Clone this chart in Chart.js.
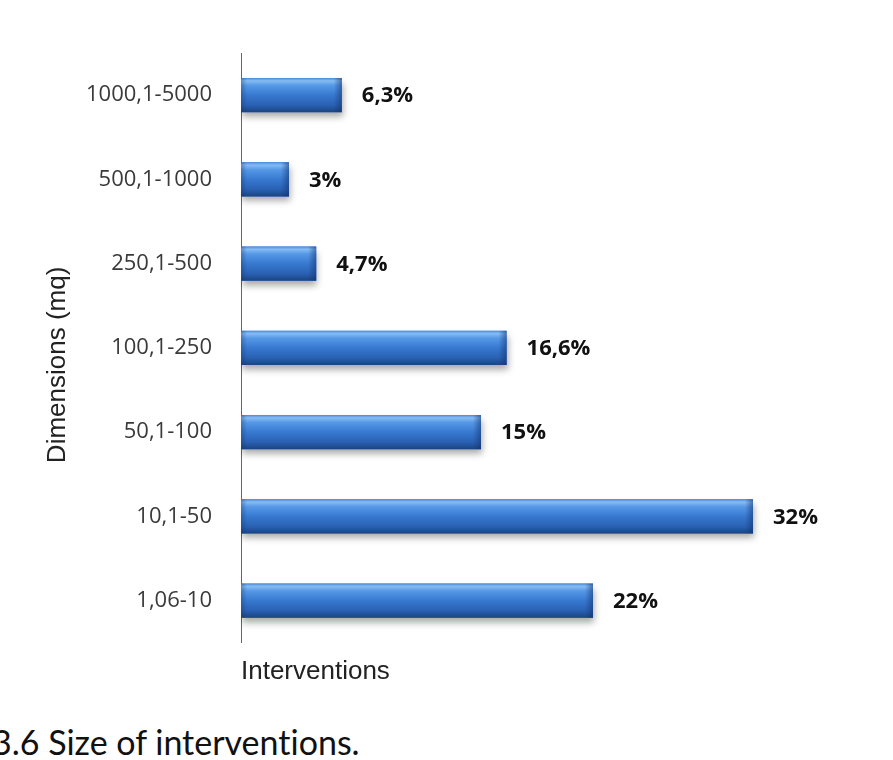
<!DOCTYPE html>
<html><head><meta charset="utf-8">
<script src="https://cdn.jsdelivr.net/npm/chart.js@4"></script>
<style>
html,body{margin:0;padding:0;background:#fff;width:893px;height:760px;overflow:hidden}
#wrap{position:absolute;left:0;top:0;width:893px;height:700px}
#cap{position:absolute;left:-8px;top:722px;font:34px/40px Lato, 'Open Sans', sans-serif;color:#111;white-space:nowrap;font-variant-ligatures:none;font-feature-settings:"liga" 0}
</style></head><body>
<div id="wrap"><canvas id="c" width="893" height="700"></canvas></div>
<div id="cap"></div>
<script>
const categories = ['1000,1-5000','500,1-1000','250,1-500','100,1-250','50,1-100','10,1-50','1,06-10'];
const shares = [6.3, 3, 4.7, 16.6, 15, 32, 22];
const shareLabels = ['6,3%','3%','4,7%','16,6%','15%','32%','22%'];
const xAxisTitle = 'Interventions';
const yAxisTitle = 'Dimensions (mq)';
const caption = '3.6 Size of interventions.';
const xMax = 40;

document.getElementById('cap').textContent = caption;

const shadowPlugin = {
  id: 'barShadow',
  beforeDatasetDraw(chart) {
    const ctx = chart.ctx;
    ctx.save();
    ctx.shadowColor = 'rgba(0,0,0,0.35)';
    ctx.shadowBlur = 7;
    ctx.shadowOffsetY = 5;
    ctx.shadowOffsetX = 1;
  },
  afterDatasetDraw(chart, args) {
    const ctx = chart.ctx;
    ctx.restore();
    args.meta.data.forEach(el => {
      const p = el.getProps(['x','y','base','height'], true);
      const top = p.y - p.height / 2, bot = p.y + p.height / 2;
      const g = ctx.createLinearGradient(0, top, 0, bot);
      g.addColorStop(0, '#4a8cdc');
      g.addColorStop(0.08, '#86bcf3');
      g.addColorStop(0.22, '#5598e6');
      g.addColorStop(0.5, '#3779d0');
      g.addColorStop(0.8, '#2960b2');
      g.addColorStop(1, '#1a447f');
      ctx.fillStyle = g;
      ctx.fillRect(p.base, top, p.x - p.base, p.height);
      const w = Math.min(8, (p.x - p.base) / 3);
      const h = ctx.createLinearGradient(p.x - w, 0, p.x, 0);
      h.addColorStop(0, 'rgba(20,50,110,0)');
      h.addColorStop(1, 'rgba(20,50,110,0.55)');
      ctx.fillStyle = h;
      ctx.fillRect(p.x - w, top, w, p.height);
      const l = ctx.createLinearGradient(p.base, 0, p.base + 6, 0);
      l.addColorStop(0, 'rgba(20,50,110,0.35)');
      l.addColorStop(1, 'rgba(20,50,110,0)');
      ctx.fillStyle = l;
      ctx.fillRect(p.base, top, 6, p.height);
    });
  }
};

const labelPlugin = {
  id: 'valueLabels',
  afterDatasetsDraw(chart) {
    const ctx = chart.ctx;
    const meta = chart.getDatasetMeta(0);
    ctx.save();
    ctx.font = 'bold 22px "Open Sans", sans-serif';
    ctx.fillStyle = '#111';
    ctx.textAlign = 'left';
    ctx.textBaseline = 'middle';
    meta.data.forEach((el, i) => {
      const p = el.getProps(['x','y'], true);
      ctx.fillText(shareLabels[i], p.x + 20, p.y + 1);
    });
    ctx.restore();
  }
};

const yTitlePlugin = {
  id: 'yTitle',
  afterDraw(chart) {
    const ctx = chart.ctx;
    const a = chart.chartArea;
    ctx.save();
    ctx.translate(58, (a.top + a.bottom) / 2 + 17);
    ctx.rotate(-Math.PI / 2);
    ctx.font = '26px "Liberation Sans", Arial, sans-serif';
    ctx.fillStyle = '#222';
    ctx.textAlign = 'center';
    ctx.textBaseline = 'middle';
    ctx.fillText(yAxisTitle, 0, 0);
    ctx.restore();
  }
};

new Chart(document.getElementById('c'), {
  type: 'bar',
  data: {
    labels: categories,
    datasets: [{
      data: shares,
      backgroundColor: '#3b7dd2',
      borderWidth: 0,
      categoryPercentage: 1,
      barPercentage: 0.405
    }]
  },
  options: {
    indexAxis: 'y',
    responsive: false,
    animation: false,
    layout: { padding: { top: 53, right: 12, left: 0, bottom: 0 } },
    plugins: { legend: { display: false }, tooltip: { enabled: false } },
    scales: {
      x: {
        min: 0, max: xMax,
        grid: { display: false, drawTicks: false },
        border: { display: false },
        ticks: { display: false },
        title: {
          display: true, text: xAxisTitle, align: 'start',
          color: '#222',
          font: { family: '"Liberation Sans", Arial, sans-serif', size: 26 },
          padding: { top: 13, bottom: 13 }
        }
      },
      y: {
        grid: { display: false, drawTicks: false },
        border: { display: true, color: '#666', width: 1 },
        ticks: {
          color: '#3a3a3a', padding: 29,
          font: { family: '"Open Sans", sans-serif', size: 22 }
        },
        afterFit(scale) { scale.width = 241; }
      }
    }
  },
  plugins: [shadowPlugin, labelPlugin, yTitlePlugin]
});
</script>
</body></html>
